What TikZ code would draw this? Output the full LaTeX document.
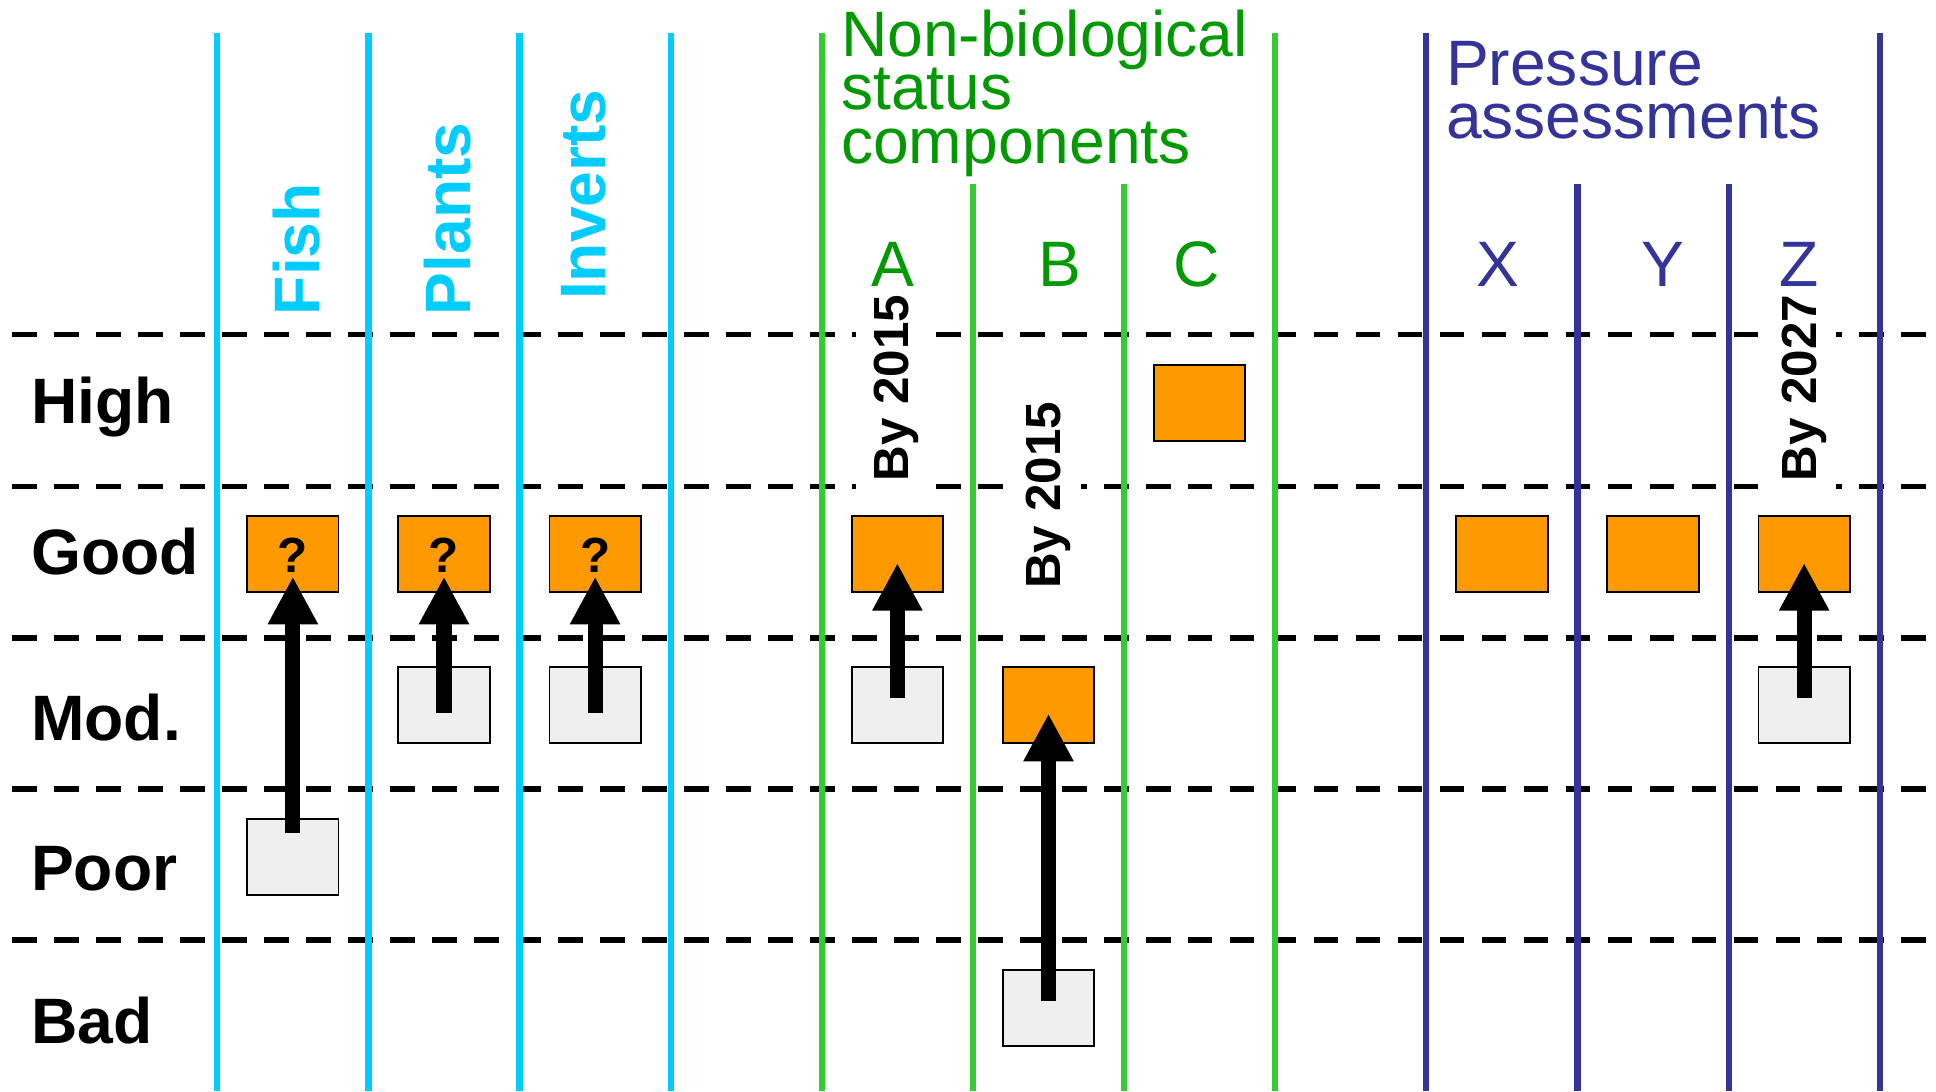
\documentclass[tikz,border=0pt]{standalone}
\usepackage{fontspec}
\setmainfont{Liberation Sans}
\usetikzlibrary{arrows.meta,calc}
\definecolor{bio}{HTML}{00CCFF}
\definecolor{nbline}{HTML}{33CC33}
\definecolor{nbtext}{HTML}{009900}
\definecolor{prs}{HTML}{333399}
\definecolor{orng}{HTML}{FF9900}
\definecolor{boxgray}{HTML}{F0EFEF}
\newcommand{\tightlines}{\lineskiplimit -100pt\relax\lineskip 0pt\relax}
\begin{document}
\begin{tikzpicture}[x=1pt,y=-1pt,
  vline/.style={line width=5pt},
  rowdash/.style={line width=4.5pt, dash pattern=on 20pt off 14pt},
  statbox/.style={draw=black, line width=1.5pt, minimum width=74pt, minimum height=61.5pt, inner sep=0pt},
  target/.style={statbox, fill=orng},
  current/.style={statbox, fill=boxgray},
  uparrow/.style={line width=12.3pt, -{Triangle[width=38pt,length=38.6pt]}},
  rowlab/.style={anchor=base west, inner sep=0pt, font=\fontsize{52}{60}\selectfont\bfseries},
  biolab/.style={rotate=90, anchor=base west, inner sep=0pt, text=bio, font=\fontsize{52}{60}\selectfont\bfseries},
  headlab/.style={anchor=base west, inner sep=0pt, align=left, font={\fontsize{52}{43.4}\selectfont\tightlines}},
  collab/.style={anchor=base, inner sep=0pt, font=\fontsize{52}{60}\selectfont},
  bylab/.style={rotate=90, anchor=base west, fill=white, inner xsep=8pt, inner ysep=8pt, font=\fontsize{40}{48}\selectfont\bfseries},
  qmark/.style={anchor=base, inner sep=0pt, font=\fontsize{40}{48}\selectfont\bfseries}
]
\useasboundingbox (0,0) rectangle (1568,884);
\fill[white] (0,0) rectangle (1568,884);

% row dividers
\foreach \yy in {271,394,516.5,639,761.5}
  \draw[rowdash] (10,\yy) -- (1568,\yy);

% target-year labels (white background hides dashes)
\node[bylab, inner ysep=14pt] (byA) at (735.6,398) {By 2015};
\node[bylab] (byB) at (859,485) {By 2015};
\node[bylab] (byZ) at (1471,398) {By 2027};

% column lines
\foreach \k in {0,1,2,3}
  \draw[vline, bio] (176+122.4*\k,26.5) -- (176+122.4*\k,884);
\foreach \k in {4,7}
  \draw[vline, nbline] (176+122.4*\k,26.5) -- (176+122.4*\k,884);
\foreach \k in {5,6}
  \draw[vline, nbline] (176+122.4*\k,149) -- (176+122.4*\k,884);
\foreach \k in {8,11}
  \draw[vline, prs] (176+122.4*\k,26.5) -- (176+122.4*\k,884);
\foreach \k in {9,10}
  \draw[vline, prs] (176+122.4*\k,149) -- (176+122.4*\k,884);

% row labels
\node[rowlab] (rHigh) at (25,342.7) {High};
\node[rowlab] (rGood) at (25,465.2) {Good};
\node[rowlab] (rMod)  at (25,599.7) {Mod.};
\node[rowlab] (rPoor) at (25,721) {Poor};
\node[rowlab] (rBad)  at (25,845) {Bad};

% biological column labels
\node[biolab] (cFish) at (258.6,255.4) {Fish};
\node[biolab] (cPlants) at (380.7,255.5) {Plants};
\node[biolab] (cInverts) at (490.7,243.1) {Inverts};

% group headers (base anchor = baseline of last line)
\node[headlab, text=nbtext] (nbHead) at (681,132.3) {Non-biological\\status\\components};
\node[headlab, text=prs, font={\fontsize{52}{42.4}\selectfont\tightlines}] (paHead) at (1171,112) {Pressure\\assessments};

% component letters
\node[collab, text=nbtext] (lA) at (723,231.7) {A};
\node[collab, text=nbtext] (lB) at (858.7,231.7) {B};
\node[collab, text=nbtext] (lC) at (969,231.7) {C};
\node[collab, text=prs] (lX) at (1213,231.7) {X};
\node[collab, text=prs] (lY) at (1347,231.7) {Y};
\node[collab, text=prs] (lZ) at (1457,231.7) {Z};

% status boxes
\node[target] (fishGood) at (237.2,449) {};
\node[current] (fishPoor) at (237.2,694) {};
\node[target] (plantsGood) at (359.6,449) {};
\node[current] (plantsMod) at (359.6,571) {};
\node[target] (invGood) at (482,449) {};
\node[current] (invMod) at (482,571) {};
\node[target] (aGood) at (726.8,449) {};
\node[current] (aMod) at (726.8,571) {};
\node[target] (bMod) at (849.2,571) {};
\node[current] (bBad) at (849.2,816.5) {};
\node[target] (cHigh) at (971.6,326.5) {};
\node[target] (xGood) at (1216.4,449) {};
\node[target] (yGood) at (1338.8,449) {};
\node[target] (zGood) at (1461.2,449) {};
\node[current] (zMod) at (1461.2,571) {};

% question marks
\node[qmark] (qFish) at (237.2,464) {?};
\node[qmark] (qPlants) at (359.6,464) {?};
\node[qmark] (qInv) at (482,464) {?};

% improvement arrows
\draw[uparrow] ($(fishPoor.center)+(0,-19)$) -- ($(fishGood.center)+(0,18)$);
\draw[uparrow] ($(plantsMod.center)+(0,6.5)$) -- ($(plantsGood.center)+(0,18)$);
\draw[uparrow] ($(invMod.center)+(0,6.5)$) -- ($(invGood.center)+(0,18)$);
\draw[uparrow] ($(aMod.center)+(0,-6)$) -- ($(aGood.center)+(0,7)$);
\draw[uparrow] ($(bBad.center)+(0,-6)$) -- ($(bMod.center)+(0,7)$);
\draw[uparrow] ($(zMod.center)+(0,-6)$) -- ($(zGood.center)+(0,7)$);
\end{tikzpicture}
\end{document}
